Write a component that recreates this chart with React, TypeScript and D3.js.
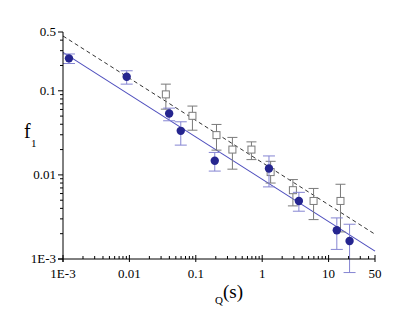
import React from "react";
import * as d3 from "d3";

// blue series: filled circles
const blueT = [0.00123, 0.0091, 0.0397, 0.0594, 0.193, 1.265, 3.57, 13.3, 20.7];
const blueF = [0.243, 0.147, 0.0538, 0.0334, 0.0147, 0.0119, 0.0049, 0.0022, 0.00164];
const blueHi = [0.274, 0.173, 0.0622, 0.0428, 0.0185, 0.0168, 0.0062, 0.00308, 0.00259];
const blueLo = [0.211, 0.12, 0.044, 0.0226, 0.0111, 0.0072, 0.0037, 0.0013, 0.00069];

// gray series: open squares
const grayT = [0.0354, 0.089, 0.205, 0.356, 0.689, 1.34, 2.9, 5.94, 15.1];
const grayF = [0.0906, 0.0504, 0.0297, 0.02, 0.02, 0.0108, 0.00658, 0.0049, 0.0049];
const grayHi = [0.12, 0.0658, 0.0398, 0.0279, 0.0247, 0.0145, 0.0088, 0.0069, 0.00774];
const grayLo = [0.0605, 0.034, 0.0197, 0.0117, 0.0152, 0.008, 0.00428, 0.00294, 0.0021];

// fitted lines (end points)
const fitT = [0.001, 50];
const blueFit = [0.286, 0.00124];
const dashFit = [0.448, 0.00197];

const xTicks = [0.001, 0.01, 0.1, 1, 10, 50];
const xTickLabels = ["1E-3", "0.01", "0.1", "1", "10", "50"];
const yTicks = [0.001, 0.01, 0.1, 0.5];
const yTickLabels = ["1E-3", "0.01", "0.1", "0.5"];

const minor = (lo: number, hi: number) => {
  const out: number[] = [];
  for (let e = -3; e <= 2; e++) {
    for (let m = 2; m <= 9; m++) {
      const v = m * Math.pow(10, e);
      if (v > lo * 1.0001 && v < hi * 0.9999) out.push(v);
    }
  }
  return out;
};

const App = () => {
  const x = d3.scaleLog().domain([0.001, 50]).range([63, 375]);
  const y = d3.scaleLog().domain([0.001, 0.5]).range([259, 32]);
  const font = "'Liberation Serif', 'Times New Roman', serif";
  const blueDot = "#25258f";
  const blueBar = "#8585d2";
  const blueLine = "#4d4dbd";
  const grayC = "#7a7a7a";

  const line = d3
    .line<number>()
    .x((d, i) => x(fitT[i]))
    .y((d) => y(d));

  const xMinor = minor(0.001, 50);
  const yMinor = minor(0.001, 0.5);

  return (
    <svg
      width={406}
      height={331}
      style={{ position: "absolute", left: 0, top: 0, background: "#fff" }}
      fontFamily={font}
    >
      {/* fit lines */}
      <path d={line(dashFit) || ""} fill="none" stroke="#333" strokeWidth={1} strokeDasharray="4,3" />
      <path d={line(blueFit) || ""} fill="none" stroke={blueLine} strokeWidth={1.1} />

      {/* gray error bars and squares */}
      {grayT.map((t, i) => (
        <g key={"g" + i} stroke={grayC} strokeWidth={1} fill="none">
          <line x1={x(t)} x2={x(t)} y1={y(grayHi[i])} y2={y(grayLo[i])} />
          <line x1={x(t) - 5} x2={x(t) + 5} y1={y(grayHi[i])} y2={y(grayHi[i])} />
          <line x1={x(t) - 5} x2={x(t) + 5} y1={y(grayLo[i])} y2={y(grayLo[i])} />
          <rect x={x(t) - 3.5} y={y(grayF[i]) - 3.5} width={7} height={7} fill="#fff" />
        </g>
      ))}

      {/* blue error bars and circles */}
      {blueT.map((t, i) => (
        <g key={"b" + i}>
          <g stroke={blueBar} strokeWidth={1}>
            <line x1={x(t)} x2={x(t)} y1={y(blueHi[i])} y2={y(blueLo[i])} />
            <line x1={x(t) - 6} x2={x(t) + 6} y1={y(blueHi[i])} y2={y(blueHi[i])} />
            <line x1={x(t) - 6} x2={x(t) + 6} y1={y(blueLo[i])} y2={y(blueLo[i])} />
          </g>
          <circle cx={x(t)} cy={y(blueF[i])} r={4.2} fill={blueDot} />
        </g>
      ))}

      {/* axes */}
      <g stroke="#000" strokeWidth={1}>
        <line x1={63} x2={63} y1={32} y2={262} />
        <line x1={58} x2={375} y1={259} y2={259} />
        {yTicks.map((v) => (
          <line key={"ym" + v} x1={58} x2={63} y1={y(v)} y2={y(v)} />
        ))}
        {yMinor.map((v) => (
          <line key={"yn" + v} x1={60} x2={63} y1={y(v)} y2={y(v)} />
        ))}
        {xTicks.map((v) => (
          <line key={"xm" + v} x1={x(v)} x2={x(v)} y1={255} y2={262} />
        ))}
        {xMinor.map((v) => (
          <line key={"xn" + v} x1={x(v)} x2={x(v)} y1={256} y2={259} />
        ))}
      </g>

      {yTicks.map((v, i) => (
        <text key={"yl" + v} x={56} y={y(v)} dy="0.33em" textAnchor="end" fontSize={13}>
          {yTickLabels[i]}
        </text>
      ))}
      {xTicks.map((v, i) => (
        <text key={"xl" + v} x={x(v)} y={278} textAnchor="middle" fontSize={13}>
          {xTickLabels[i]}
        </text>
      ))}

      {/* axis titles */}
      <text x={24} y={138} fontSize={20}>f</text>
      <text x={31} y={147} fontSize={11}>1</text>
      <text x={215} y={304} fontSize={11}>Q</text>
      <text x={223} y={298} fontSize={19}>(s)</text>
    </svg>
  );
};

export default App;
